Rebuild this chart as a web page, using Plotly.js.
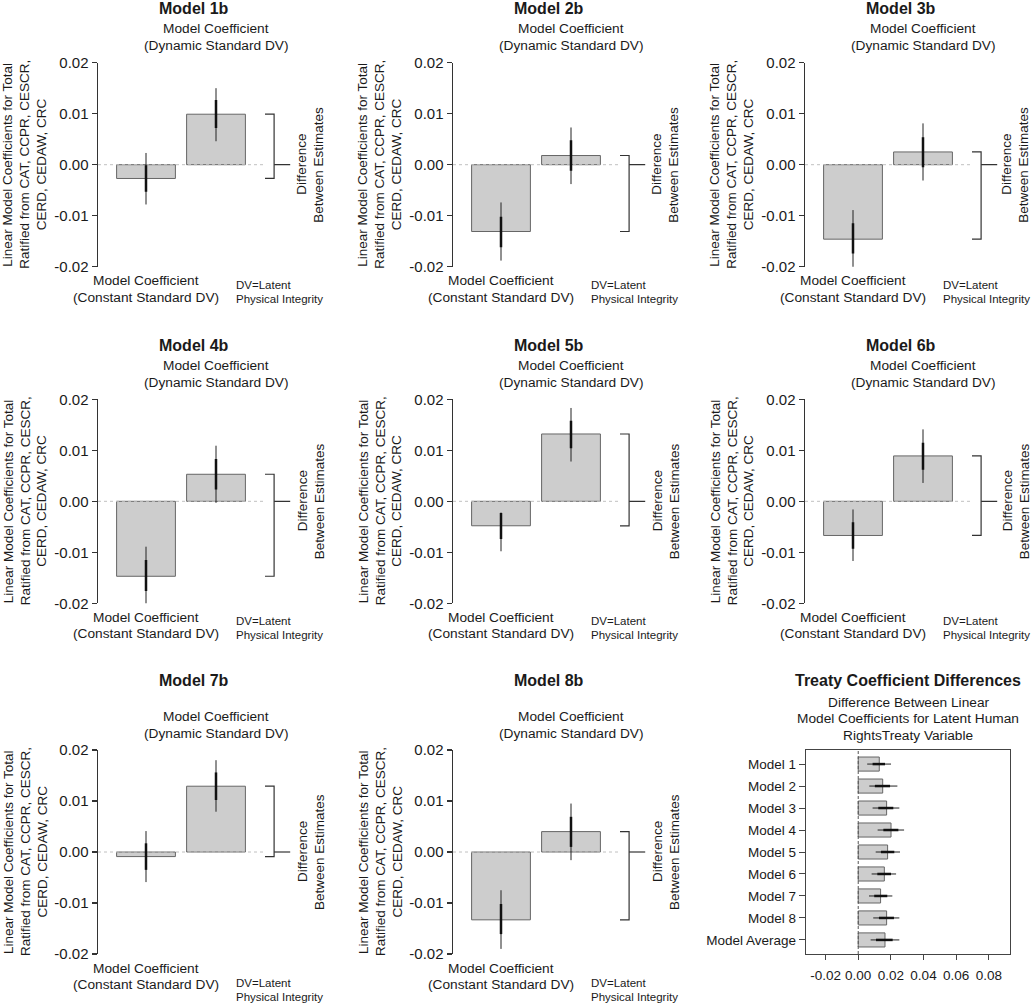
<!DOCTYPE html>
<html>
<head>
<meta charset="utf-8">
<script src="https://cdn.plot.ly/plotly-3.0.1.min.js"></script>
<style>
  body { margin: 0; background: #fff; }
  #chart { width: 1032px; height: 1004px; }
</style>
</head>
<body>
<div id="chart"></div>
<script>
// model panels: coefficient for constant / dynamic standard DV, with 95% and 68% intervals
const models = ["Model 1b", "Model 2b", "Model 3b", "Model 4b", "Model 5b", "Model 6b", "Model 7b", "Model 8b"];

const constCoef = [-0.0027, -0.0131, -0.0146, -0.0147, -0.0048, -0.0067, -0.0009, -0.0133];
const constLo95 = [-0.0078, -0.0188, -0.0202, -0.0202, -0.0098, -0.0117, -0.0059, -0.0190];
const constHi95 = [0.0023, -0.0074, -0.0089, -0.0089, -0.0022, -0.0016, 0.0041, -0.0075];
const constLo68 = [-0.0053, -0.0162, -0.0174, -0.0176, -0.0074, -0.0093, -0.0035, -0.0161];
const constHi68 = [-0.0001, -0.0102, -0.0115, -0.0115, -0.0023, -0.0041, 0.0017, -0.0102];

const dynCoef = [0.0099, 0.0018, 0.0025, 0.0053, 0.0132, 0.0089, 0.0129, 0.0040];
const dynLo95 = [0.0046, -0.0038, -0.0031, -0.0003, 0.0078, 0.0036, 0.0079, -0.0016];
const dynHi95 = [0.0150, 0.0073, 0.0081, 0.0109, 0.0183, 0.0141, 0.0180, 0.0095];
const dynLo68 = [0.0072, -0.0012, -0.0005, 0.0023, 0.0104, 0.0062, 0.0102, 0.0010];
const dynHi68 = [0.0127, 0.0048, 0.0054, 0.0083, 0.0158, 0.0115, 0.0156, 0.0069];

const yTickVals = [-0.02, -0.01, 0, 0.01, 0.02];
const yTickText = ["-0.02", "-0.01", "0.00", "0.01", "0.02"];

// treaty coefficient differences
const diffLabels = ["Model 1", "Model 2", "Model 3", "Model 4", "Model 5", "Model 6", "Model 7", "Model 8", "Model Average"];
const diffEst = [0.0129, 0.0150, 0.0174, 0.0201, 0.0180, 0.0160, 0.0137, 0.0174, 0.0164];
const diffLo95 = [0.0055, 0.0068, 0.0088, 0.0119, 0.0107, 0.0082, 0.0066, 0.0092, 0.0076];
const diffHi95 = [0.0201, 0.0240, 0.0252, 0.0281, 0.0256, 0.0232, 0.0209, 0.0252, 0.0252];
const diffLo68 = [0.0088, 0.0102, 0.0123, 0.0154, 0.0139, 0.0117, 0.0098, 0.0127, 0.0109];
const diffHi68 = [0.0164, 0.0195, 0.0215, 0.0246, 0.0221, 0.0201, 0.0178, 0.0219, 0.0211];
const diffTickVals = [-0.02, 0, 0.02, 0.04, 0.06, 0.08];
const diffTickText = ["-0.02", "0.00", "0.02", "0.04", "0.06", "0.08"];

const W = 1032, H = 1004;
const FONT = "Liberation Sans, Arial, Helvetica, sans-serif";
const TXT = "#1a1a1a";
const BAR_FILL = "#cdcdcd", BAR_LINE = "#666";

const colAxis = [98, 453, 805];   // px of each column's y axis
const rowTop = [62.7, 399.3, 750];  // px of the 0.02 tick in each row
const PH = 204, PW = 200, SLOT = 70;
const x0 = 1 - 48 / SLOT;

const px = v => v / W;
const py = v => 1 - v / H;

let traces = [];
let annotations = [];
let shapes = [];
let layout = {
    width: W, height: H,
    margin: {l: 0, r: 0, t: 0, b: 0},
    showlegend: false,
    paper_bgcolor: "#fff",
    plot_bgcolor: "rgba(0,0,0,0)",
    font: {family: FONT, color: TXT}
};

function text(t, x, y, size, opts) {
    annotations.push(Object.assign({
        text: t, xref: "paper", yref: "paper", x: px(x), y: py(y),
        xanchor: "center", yanchor: "middle", showarrow: false, borderpad: 0,
        font: {family: FONT, size: size, color: TXT}
    }, opts || {}));
}

models.forEach((name, i) => {
    const r = Math.floor(i / 3), c = i % 3;
    const n = i === 0 ? "" : String(i + 1);
    const xa = "x" + n, ya = "y" + n;
    const ax = colAxis[c], top = rowTop[r], bottom = top + PH;

    layout["xaxis" + n] = {
        domain: [px(ax), px(ax + PW)], range: [x0, x0 + PW / SLOT],
        anchor: ya, visible: false, fixedrange: true
    };
    layout["yaxis" + n] = {
        domain: [py(bottom), py(top)], range: [-0.02, 0.02], anchor: xa,
        tickvals: yTickVals, ticktext: yTickText, ticks: "outside", ticklen: 5,
        tickcolor: "#333", tickwidth: 1.3, showline: true, linecolor: "#333", linewidth: 1.5,
        showgrid: false, zeroline: false, tickfont: {size: 15, family: FONT, color: TXT},
        fixedrange: true
    };

    const v1 = constCoef[i], v2 = dynCoef[i];
    traces.push({
        type: "bar", x: [1, 2], y: [v1, v2], width: 0.84, xaxis: xa, yaxis: ya,
        marker: {color: BAR_FILL, line: {color: BAR_LINE, width: 1}}, hoverinfo: "skip"
    });
    traces.push({
        type: "scatter", mode: "lines", x: [x0, 2.7], y: [0, 0], xaxis: xa, yaxis: ya,
        line: {color: "#c0c0c0", width: 1, dash: "3px,3px"}, hoverinfo: "skip"
    });
    traces.push({
        type: "scatter", mode: "lines", xaxis: xa, yaxis: ya, hoverinfo: "skip",
        x: [1, 1, null, 2, 2], y: [constLo95[i], constHi95[i], null, dynLo95[i], dynHi95[i]],
        line: {color: "#222", width: 1}
    });
    traces.push({
        type: "scatter", mode: "lines", xaxis: xa, yaxis: ya, hoverinfo: "skip",
        x: [1, 1, null, 2, 2], y: [constLo68[i], constHi68[i], null, dynLo68[i], dynHi68[i]],
        line: {color: "#111", width: 2.5}
    });
    // bracket showing the difference between the two estimates
    traces.push({
        type: "scatter", mode: "lines", xaxis: xa, yaxis: ya, hoverinfo: "skip",
        x: [2.7, 2.83, 2.83, 2.7, null, 2.83, 3.06], y: [v2, v2, v1, v1, null, 0, 0],
        line: {color: "#333", width: 1.2}
    });

    const titleOff = r === 2 ? 70 : 54;
    text("<b>" + name + "</b>", ax + 96, top - titleOff, 16);
    text("Model Coefficient", ax + 118, top - 34, 13.7);
    text("(Dynamic Standard DV)", ax + 118, top - 17, 13.7);
    text("Model Coefficient", ax + 48, bottom + 14, 13.7);
    text("(Constant Standard DV)", ax + 48, bottom + 30.5, 13.7);
    const dvOff = r === 2 ? 29 : 18;
    text("DV=Latent", ax + 137, bottom + dvOff, 11.5, {xanchor: "left"});
    text("Physical Integrity", ax + 137, bottom + dvOff + 14, 11.5, {xanchor: "left"});
    const mid = top + PH / 2;
    const dOff = c === 2 ? -2 : 0;
    text("Difference", ax + 204 + dOff, mid, 13.5, {textangle: -90});
    text("Between Estimates", ax + 221 + dOff, mid, 13.5, {textangle: -90});
    text("Linear Model Coefficients for Total", ax - 90, mid, 13.5, {textangle: -90});
    text("Ratified from CAT, CCPR, CESCR,", ax - 73, mid, 13.5, {textangle: -90});
    text("CERD, CEDAW, CRC", ax - 56.5, mid, 13.5, {textangle: -90});
});

// treaty coefficient differences panel
const bx0 = 806, bx1 = 1010, by0 = 750, by1 = 954;
const rows = diffLabels.map((d, k) => k);
layout.xaxis9 = {
    domain: [px(bx0), px(bx1)], range: [-0.032, 0.093], anchor: "y9",
    tickvals: diffTickVals, ticktext: diffTickText, ticks: "outside", ticklen: 5,
    tickcolor: "#444", showline: true, mirror: true, linecolor: "#444", linewidth: 1.3,
    showgrid: false, zeroline: false, tickfont: {size: 13.5, family: FONT, color: TXT},
    ticklabelstandoff: 3, fixedrange: true
};
layout.yaxis9 = {
    domain: [py(by1), py(by0)], range: [8.64, -0.64], anchor: "x9",
    tickvals: rows, ticktext: diffLabels, ticks: "outside", ticklen: 6,
    tickcolor: "#444", showline: true, mirror: true, linecolor: "#444", linewidth: 1.3,
    showgrid: false, zeroline: false, tickfont: {size: 13.5, family: FONT, color: TXT},
    fixedrange: true
};
traces.push({
    type: "bar", orientation: "h", x: diffEst, y: rows, width: 0.64, xaxis: "x9", yaxis: "y9",
    marker: {color: BAR_FILL, line: {color: BAR_LINE, width: 1}}, hoverinfo: "skip"
});
let thinX = [], thinY = [], thickX = [], thickY = [];
rows.forEach(k => {
    thinX.push(diffLo95[k], diffHi95[k], null); thinY.push(k, k, null);
    thickX.push(diffLo68[k], diffHi68[k], null); thickY.push(k, k, null);
});
traces.push({type: "scatter", mode: "lines", x: thinX, y: thinY, xaxis: "x9", yaxis: "y9",
    line: {color: "#222", width: 1}, hoverinfo: "skip"});
traces.push({type: "scatter", mode: "lines", x: thickX, y: thickY, xaxis: "x9", yaxis: "y9",
    line: {color: "#111", width: 2.5}, hoverinfo: "skip"});
shapes.push({type: "line", xref: "x9", yref: "y9 domain", x0: 0, x1: 0, y0: 0, y1: 1,
    line: {color: "#555", width: 1, dash: "3px,2px"}});

const tc = (bx0 + bx1) / 2;
text("<b>Treaty Coefficient Differences</b>", tc, 680, 16);
text("Difference Between Linear", tc, 702, 13.7);
text("Model Coefficients for Latent Human", tc, 718.5, 13.7);
text("RightsTreaty Variable", tc, 735, 13.7);

layout.annotations = annotations;
layout.shapes = shapes;

Plotly.newPlot("chart", traces, layout, {staticPlot: true});
</script>
</body>
</html>
